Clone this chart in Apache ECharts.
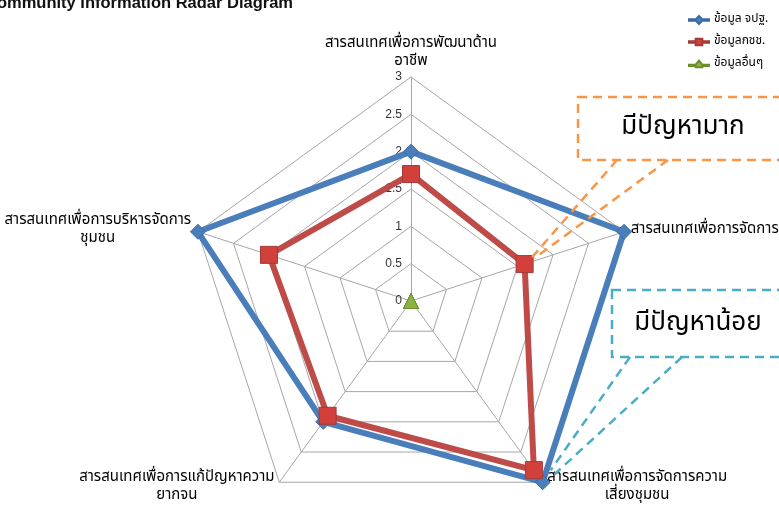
<!DOCTYPE html>
<html>
<head>
<meta charset="utf-8">
<script src="https://cdn.jsdelivr.net/npm/echarts@6/dist/echarts.min.js"></script>
<style>
  html, body { margin: 0; padding: 0; background: #fff; }
  #chart { width: 779px; height: 508px; }
</style>
</head>
<body>
<div id="chart"></div>
<script>
// indicators in clockwise order, starting at the top
const categories = [
  'สารสนเทศเพื่อการพัฒนาด้าน\nอาชีพ',
  'สารสนเทศเพื่อการจัดการ',
  'สารสนเทศเพื่อการจัดการความ\nเสี่ยงชุมชน',
  'สารสนเทศเพื่อการแก้ปัญหาความ\nยากจน',
  'สารสนเทศเพื่อการบริหารจัดการ\nชุมชน'
];
const seriesNames = ['ข้อมูล จปฐ.', 'ข้อมูลกชช.', 'ข้อมูลอื่นๆ'];
const valuesJpt = [2, 3, 3, 2, 3];
const valuesKchch = [1.7, 1.6, 2.8, 1.9, 2];
const valuesOther = [0, 0, 0, 0, 0];
const tickLabels = ['0', '0.5', '1', '1.5', '2', '2.5', '3'];
const callouts = ['มีปัญหามาก', 'มีปัญหาน้อย'];

const thaiFont = '"Noto Sans Thai", "Tahoma", "DejaVu Sans", "Noto Sans", sans-serif';
const nameSize = 15;

// echarts lays radar axes out counter-clockwise, Excel clockwise
const order = [0, 4, 3, 2, 1];
const ccw = arr => order.map(i => arr[i]);

const cx = 411, cy = 301, R = 224;

// each axis name is a block whose lines are centred, like Excel does
const ctx = document.createElement('canvas').getContext('2d');
ctx.font = nameSize + 'px ' + thaiFont;
const nameRich = {};
categories.forEach((c, i) => {
  const w = Math.max(...c.split('\n').map(s => ctx.measureText(s).width));
  nameRich['n' + i] = { width: Math.ceil(w) + 2, align: 'center', fontSize: nameSize, lineHeight: 18, color: '#000', fontFamily: thaiFont };
});

// legend icons: line with the series marker in the middle
const iconDiamond = 'path://M0,5 L10,5 L15,0 L20,5 L30,5 L30,7 L20,7 L15,12 L10,7 L0,7 Z';
const iconSquare = 'path://M0,5 L10,5 L10,1 L20,1 L20,5 L30,5 L30,7 L20,7 L20,11 L10,11 L10,7 L0,7 Z';
const iconTriangle = 'path://M0,7 L10,7 L15,1 L20,7 L30,7 L30,9 L20,9 L20,11 L10,11 L10,9 L0,9 Z';

const chart = echarts.init(document.getElementById('chart'));
chart.setOption({
  animation: false,
  textStyle: { fontFamily: thaiFont },
  title: {
    text: 'Community Information Radar Diagram',
    left: -20,
    top: -10,
    textStyle: { fontSize: 16.5, fontWeight: 'bold', color: '#111', fontFamily: 'Liberation Sans, Arial, sans-serif' }
  },
  legend: {
    orient: 'vertical',
    left: 683,
    top: 9,
    itemGap: 10,
    itemWidth: 20,
    itemHeight: 10,
    textStyle: { fontSize: 12, color: '#000' },
    data: [
      { name: seriesNames[0], icon: iconDiamond },
      { name: seriesNames[1], icon: iconSquare },
      { name: seriesNames[2], icon: iconTriangle }
    ]
  },
  grid: { left: cx, top: cy - R, width: 1, height: R },
  xAxis: { type: 'value', show: false },
  yAxis: {
    type: 'value',
    min: 0,
    max: 3,
    interval: 0.5,
    axisLine: { show: false },
    axisTick: { show: false },
    splitLine: { show: false },
    axisLabel: {
      margin: 9,
      fontSize: 12,
      color: '#333',
      fontFamily: 'Liberation Sans, Arial, sans-serif',
      formatter: (v) => tickLabels[Math.round(v * 2)]
    }
  },
  radar: {
    center: [cx, cy],
    radius: R,
    startAngle: 90,
    splitNumber: 6,
    shape: 'polygon',
    nameGap: 6,
    indicator: ccw(categories).map(n => ({ name: n, min: 0, max: 3 })),
    axisName: {
      color: '#000',
      fontSize: nameSize,
      lineHeight: 18,
      fontFamily: thaiFont,
      rich: nameRich,
      formatter: (name) => {
        const key = 'n' + categories.indexOf(name);
        return name.split('\n').map(s => '{' + key + '|' + s + '}').join('\n');
      }
    },
    axisLine: { lineStyle: { color: '#a6a6a6', width: 1 } },
    splitLine: { lineStyle: { color: '#a6a6a6', width: 1 } },
    splitArea: { show: false },
    axisTick: { show: false },
    axisLabel: { show: false }
  },
  series: [{
    type: 'radar',
    z: 3,
    data: [
      {
        name: seriesNames[0],
        value: ccw(valuesJpt),
        symbol: 'diamond',
        symbolSize: 15,
        lineStyle: { color: '#4a7ebb', width: 6 },
        itemStyle: { color: '#4a7ebb', borderColor: '#3a6aa5', borderWidth: 1 }
      },
      {
        name: seriesNames[1],
        value: ccw(valuesKchch),
        symbol: 'rect',
        symbolSize: 17,
        lineStyle: { color: '#be4b48', width: 6 },
        itemStyle: { color: '#d2403c', borderColor: '#a33a37', borderWidth: 1 }
      },
      {
        name: seriesNames[2],
        value: ccw(valuesOther),
        symbol: 'triangle',
        symbolSize: 15,
        lineStyle: { color: '#98b954', width: 6 },
        itemStyle: { color: '#8db33f', borderColor: '#6e8f2e', borderWidth: 1 }
      }
    ]
  }]
});

// callout pointers aim at the data points through the radar coordinate system
const radarCs = chart.getModel().getComponent('radar', 0).coordinateSystem;
const pt = (val, i) => radarCs.dataToPoint(val, order.indexOf(i));
const redTip = pt(valuesKchch[1], 1);
const blueTip = pt(valuesJpt[2], 2);

const dashOrange = { stroke: '#f79646', lineWidth: 2.5, lineDash: [9, 6], fill: null };
const dashCyan = { stroke: '#4bacc6', lineWidth: 2.5, lineDash: [9, 6], fill: null };

chart.setOption({
  graphic: [
    { type: 'rect', shape: { x: 578, y: 97, width: 260, height: 63 }, style: Object.assign({}, dashOrange, { fill: '#fff' }), z: 10 },
    { type: 'text', x: 683, y: 129, style: { text: callouts[0], fontSize: 26, fill: '#000', align: 'center', verticalAlign: 'middle', fontFamily: thaiFont }, z: 11 },
    { type: 'line', shape: { x1: 617, y1: 160, x2: redTip[0] + 4, y2: redTip[1] - 3 }, style: dashOrange, z: 10 },
    { type: 'line', shape: { x1: 668, y1: 160, x2: redTip[0] + 10, y2: redTip[1] - 6 }, style: dashOrange, z: 10 },
    { type: 'rect', shape: { x: 612, y: 290, width: 230, height: 67 }, style: Object.assign({}, dashCyan, { fill: '#fff' }), z: 10 },
    { type: 'text', x: 698, y: 325, style: { text: callouts[1], fontSize: 26, fill: '#000', align: 'center', verticalAlign: 'middle', fontFamily: thaiFont }, z: 11 },
    { type: 'line', shape: { x1: 630, y1: 357, x2: blueTip[0] + 8, y2: blueTip[1] - 12 }, style: dashCyan, z: 10 },
    { type: 'line', shape: { x1: 682, y1: 357, x2: blueTip[0] + 12, y2: blueTip[1] - 8 }, style: dashCyan, z: 10 }
  ]
});
</script>
</body>
</html>
